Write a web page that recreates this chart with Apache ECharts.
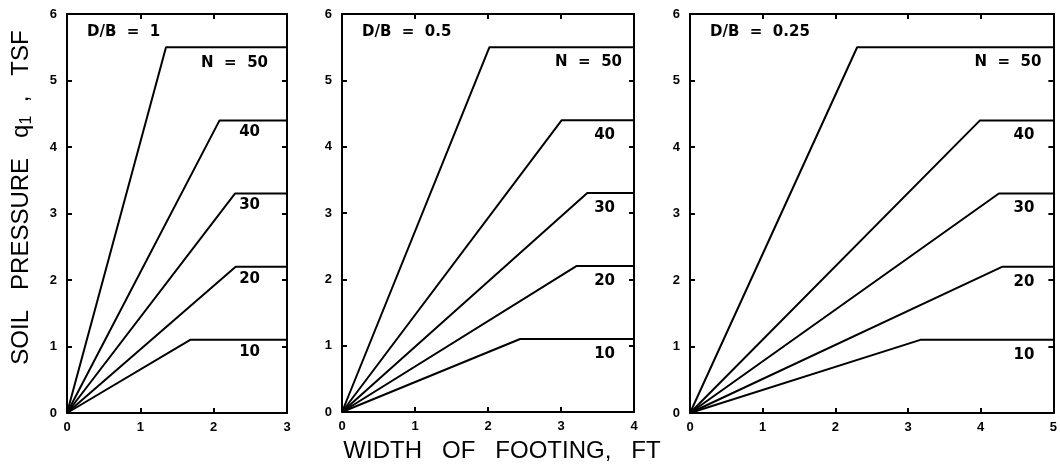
<!DOCTYPE html>
<html>
<head>
<meta charset="utf-8">
<script src="https://cdn.jsdelivr.net/npm/echarts@6/dist/echarts.min.js"></script>
<style>
  html, body { margin: 0; padding: 0; background: #fff; }
  #chart { width: 1060px; height: 468px; }
</style>
</head>
<body>
<div id="chart"></div>
<script>
// ---- Data ----
const N_VALUES = [50, 40, 30, 20, 10];
const PLATEAU_Q = [5.5, 4.4, 3.3, 2.2, 1.1];            // plateau soil pressure, TSF
const PANEL_TITLES = ['D/B  =  1', 'D/B  =  0.5', 'D/B  =  0.25'];
const X_MAX = [3, 4, 5];                                // width of footing axis max, ft
const BREAK_X_DB1 = [1.35, 2.08, 2.29, 2.30, 1.68];     // width where plateau starts, D/B = 1
const BREAK_X_DB05 = [2.02, 3.01, 3.36, 3.21, 2.44];    // D/B = 0.5
const BREAK_X_DB025 = [2.30, 3.99, 4.25, 4.30, 3.17];   // D/B = 0.25
const Y_MAX = 6;

const BREAKS = [BREAK_X_DB1, BREAK_X_DB05, BREAK_X_DB025];

// ---- Layout / style ----
const GRIDS = [
  { left: 67, top: 14, width: 220, height: 399 },
  { left: 342, top: 14, width: 292, height: 399 },
  { left: 690, top: 14, width: 367, height: 399 }
];
const LABEL_DX = [[-19, -27], [-12, -19], [-12, -19]];
const LABEL_DY = [[16, 12], [15, 15], [15, 15]];
const TICK_FONT = { color: '#000', fontFamily: 'Liberation Sans', fontWeight: 'bold', fontSize: 13 };
const LINE = { color: '#000', width: 2 };

const xAxes = [], yAxes = [], series = [], titles = [];

GRIDS.forEach((g, p) => {
  const common = {
    type: 'value',
    gridIndex: p,
    interval: 1,
    splitLine: { show: false },
    axisLine: { show: true, onZero: false, lineStyle: LINE },
    axisTick: { show: true, inside: true, length: 5, lineStyle: { color: '#000', width: 2 } }
  };
  xAxes.push(Object.assign({}, common, {
    position: 'bottom', min: 0, max: X_MAX[p],
    axisLabel: Object.assign({ margin: 8 }, TICK_FONT),
    name: p === 1 ? 'WIDTH   OF   FOOTING,   FT' : '',
    nameLocation: 'middle', nameGap: 27,
    nameTextStyle: { color: '#000', fontFamily: 'Liberation Sans', fontSize: 24, padding: [0, 0, 0, 28] }
  }));
  xAxes.push(Object.assign({}, common, {
    position: 'top', min: 0, max: X_MAX[p], axisLabel: { show: false }
  }));
  yAxes.push(Object.assign({}, common, {
    position: 'left', min: 0, max: Y_MAX,
    axisLabel: Object.assign({ margin: 10 }, TICK_FONT),
    name: p === 0 ? 'SOIL   PRESSURE   q{sub|1}  ,   TSF' : '',
    nameLocation: 'middle', nameRotate: 90, nameGap: 32,
    nameTextStyle: {
      color: '#000', fontFamily: 'Liberation Sans', fontSize: 24, padding: [0, 0, 0, 32],
      rich: { sub: { fontFamily: 'Liberation Sans', fontSize: 16, color: '#000', verticalAlign: 'bottom', padding: [12, 0, 0, 0] } }
    }
  }));
  yAxes.push(Object.assign({}, common, {
    position: 'right', min: 0, max: Y_MAX, axisLabel: { show: false }
  }));

  titles.push({
    text: PANEL_TITLES[p],
    left: g.left + 15,
    top: 20,
    textStyle: { color: '#000', fontFamily: 'DejaVu Sans', fontWeight: 'bold', fontSize: 15 }
  });

  N_VALUES.forEach((n, i) => {
    const bx = BREAKS[p][i];
    const q = PLATEAU_Q[i];
    series.push({
      type: 'line',
      xAxisIndex: 2 * p,
      yAxisIndex: 2 * p,
      data: [[0, 0], [bx, q], [X_MAX[p], q]],
      showSymbol: false,
      symbol: 'none',
      silent: true,
      lineStyle: LINE,
      endLabel: {
        show: true,
        distance: 0,
        align: 'right',
        verticalAlign: 'middle',
        offset: [LABEL_DX[p][i === 0 ? 0 : 1], LABEL_DY[p][i === 0 ? 0 : 1]],
        formatter: i === 0 ? 'N  =  ' + n : String(n),
        color: '#000',
        fontFamily: 'DejaVu Sans',
        fontWeight: 'bold',
        fontSize: 15
      }
    });
  });
});

const chart = echarts.init(document.getElementById('chart'), null, { renderer: 'canvas' });
chart.setOption({
  animation: false,
  backgroundColor: '#fff',
  title: titles,
  grid: GRIDS.map(g => Object.assign({ containLabel: false }, g)),
  xAxis: xAxes,
  yAxis: yAxes,
  series: series
});
</script>
</body>
</html>
